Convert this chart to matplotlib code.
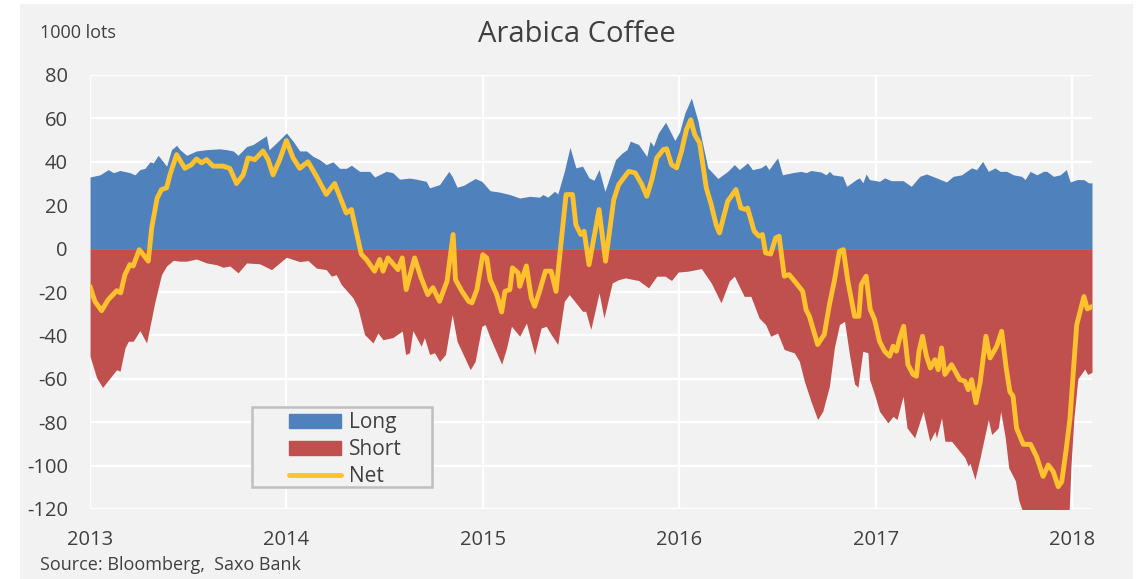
import numpy as np
import matplotlib
matplotlib.use('Agg')
import matplotlib.pyplot as plt
from matplotlib.patches import Patch, Rectangle
from matplotlib.lines import Line2D

plt.rcParams['font.family'] = ['Open Sans', 'DejaVu Sans']
plt.rcParams['axes.unicode_minus'] = False

# CFTC positions, 1000 lots (x = decimal year)
long_t = [2013.000, 2013.051, 2013.093, 2013.119, 2013.153, 2013.203, 2013.229, 2013.254, 2013.280, 2013.305,
          2013.322, 2013.347, 2013.373, 2013.390, 2013.415, 2013.441, 2013.458, 2013.492, 2013.542, 2013.593,
          2013.661, 2013.695, 2013.729, 2013.754, 2013.797, 2013.831, 2013.864, 2013.898, 2013.912, 2013.949,
          2014.000, 2014.034, 2014.068, 2014.102, 2014.136, 2014.169, 2014.203, 2014.237, 2014.271, 2014.305,
          2014.331, 2014.373, 2014.424, 2014.449, 2014.508, 2014.542, 2014.576, 2014.627, 2014.661, 2014.712,
          2014.729, 2014.780,
          2014.827, 2014.844, 2014.869, 2014.903, 2014.961, 2014.995, 2015.037, 2015.087, 2015.138, 2015.188,
          2015.239, 2015.289, 2015.306, 2015.331, 2015.365, 2015.382, 2015.415, 2015.444, 2015.474, 2015.508,
          2015.541, 2015.566, 2015.592, 2015.622, 2015.676, 2015.709, 2015.734, 2015.751, 2015.793, 2015.835,
          2015.852, 2015.869, 2015.894, 2015.931, 2015.978, 2016.003, 2016.029, 2016.062, 2016.096, 2016.113,
          2016.146, 2016.197, 2016.247, 2016.281, 2016.306, 2016.348, 2016.373, 2016.415, 2016.440, 2016.457,
          2016.501, 2016.526, 2016.578, 2016.620, 2016.646, 2016.671, 2016.722, 2016.748, 2016.765, 2016.782,
          2016.833, 2016.853, 2016.901, 2016.918, 2016.935, 2016.952, 2016.969, 2017.020, 2017.046, 2017.080,
          2017.140, 2017.182, 2017.225, 2017.259, 2017.310, 2017.361, 2017.395, 2017.438, 2017.463, 2017.489,
          2017.514, 2017.545, 2017.574, 2017.608, 2017.634, 2017.668, 2017.702, 2017.744, 2017.761, 2017.787,
          2017.821, 2017.855, 2017.872, 2017.906, 2017.940, 2017.971, 2017.991, 2018.026, 2018.060, 2018.085,
          2018.102]
long_v = [33, 34, 36.4, 35, 36, 35, 34, 36.4, 37, 40,
          39.5, 43, 40, 38, 45.6, 47.6, 45.6, 43, 45, 45.6,
          46, 45.6, 45, 43, 47, 48, 50, 52, 45.6, 48.7,
          53.3, 49.5, 45, 45, 42.5, 41, 38.7, 40, 37, 37,
          38.4, 35.6, 35.6, 33, 35.6, 35, 32, 32.5, 32, 31,
          28, 29.5,
          35.6, 33.3, 28.3, 29.2, 32.3, 31, 26.7, 26, 24.9, 23.3,
          24.1, 23.7, 24.9, 23.7, 26.4, 25.2, 35.6, 46.7, 37.2, 38,
          32.6, 31.5, 36.4, 26.4, 41, 44, 45.6, 49.5, 48, 42.5,
          49.5, 47.2, 53.3, 58.2, 49.8, 54, 62.5, 69.4, 58.7, 51,
          37.2, 32.3, 35.6, 38.7, 36.4, 39.5, 36.4, 37.2, 38.7, 36.4,
          41.8, 34, 35, 35.6, 35, 36, 35.3, 34, 35.6, 34,
          33.3, 28.7, 31.8, 32.6, 30.3, 34.4, 31.8, 31, 32.6, 31.3,
          31.3, 28.7, 33.3, 34.4, 32.6, 30.7, 33.3, 34, 35.6, 37.2,
          36.4, 40.2, 35.6, 37.2, 35.6, 35.6, 34, 33.3, 31.8, 35.6,
          34, 35.6, 35.6, 33.3, 34, 36.4, 30.7, 31.8, 31.8, 30.3,
          30.3]

short_t = [2013.000, 2013.034, 2013.064, 2013.102, 2013.136, 2013.153, 2013.178, 2013.195, 2013.220, 2013.254,
           2013.288, 2013.331, 2013.364, 2013.390, 2013.424, 2013.458, 2013.492, 2013.542, 2013.593, 2013.644,
           2013.678, 2013.712, 2013.754, 2013.797, 2013.864, 2013.924, 2014.000, 2014.068, 2014.110, 2014.153,
           2014.203, 2014.229, 2014.254, 2014.280, 2014.339, 2014.364, 2014.398, 2014.441, 2014.466, 2014.492,
           2014.542, 2014.590, 2014.607, 2014.627, 2014.644, 2014.686, 2014.703, 2014.729, 2014.754, 2014.780,
           2014.810, 2014.844, 2014.869, 2014.936, 2014.961, 2014.995, 2015.012, 2015.037, 2015.096, 2015.121,
           2015.146, 2015.188, 2015.222, 2015.264, 2015.297, 2015.323, 2015.348, 2015.382, 2015.415, 2015.440,
           2015.474, 2015.508, 2015.524, 2015.550, 2015.592, 2015.617, 2015.659, 2015.692, 2015.726, 2015.793,
           2015.844, 2015.886, 2015.928, 2015.961, 2015.995, 2016.045, 2016.113, 2016.163, 2016.213, 2016.255,
           2016.281, 2016.331, 2016.365, 2016.407, 2016.440, 2016.466,
           2016.501, 2016.535, 2016.560, 2016.586, 2016.612, 2016.637, 2016.671, 2016.705, 2016.731, 2016.765,
           2016.790, 2016.816, 2016.842, 2016.867, 2016.893, 2016.910, 2016.935, 2016.961, 2016.969, 2016.995,
           2017.020, 2017.063, 2017.089, 2017.109, 2017.140, 2017.160, 2017.199, 2017.242, 2017.276, 2017.302,
           2017.310, 2017.336, 2017.353, 2017.387, 2017.421, 2017.455, 2017.472, 2017.480, 2017.506, 2017.532,
           2017.574, 2017.591, 2017.625, 2017.637, 2017.660, 2017.678, 2017.712, 2017.729, 2017.752, 2017.770,
           2017.796, 2017.830, 2017.855, 2017.876, 2017.906, 2017.928, 2017.949, 2017.974, 2017.985, 2017.995,
           2018.010, 2018.030, 2018.065, 2018.080, 2018.102]
short_v = [-49.6, -59.6, -64, -59.6, -55.8, -56.5, -45.8, -42.7, -42.7, -37.8,
           -43.5, -24.3, -12, -8, -5.4, -5.8, -5.8, -4.8, -6.6, -7.4,
           -8.6, -8, -11.2, -6.6, -7, -9.7, -4, -6, -5.5, -9,
           -9.7, -12.7, -12, -16.6, -22.7, -27.3, -39.6, -43.5, -38.9, -42,
           -41, -38, -48.8, -48, -37.8, -45, -41, -48.8, -48, -52,
           -48.8, -30.4, -42.7, -55.8, -52, -35.8, -35, -41, -53.3, -45.8,
           -35.8, -40.4, -34.3, -48.8, -36.6, -35.8, -39.6, -44.2, -24.3, -21.2,
           -25, -28.9, -28.9, -37.3, -20.4, -32, -15.8, -14.3, -13.5, -14.7,
           -18.1, -12.7, -12.7, -14.7, -10.8, -10.4, -9.2, -15.8, -25, -15,
           -12.7, -22, -22, -32, -35, -40.4,
           -38.9, -46.5, -47.3, -48, -52, -61, -70.4, -78.8, -75, -63.4,
           -45.8, -35, -33.5, -48.8, -62.4, -63.9, -47.3, -48, -60.2, -67.3,
           -75, -80.3, -77.3, -78.8, -68, -82.6, -87.2, -75, -88.8, -84.2,
           -87.2, -78, -88.8, -88.8, -92.6, -96.4, -100.3, -98.8, -106.4, -96.4,
           -78.8, -85.7, -82.6, -75, -87, -101, -107, -116, -122, -123,
           -124, -132, -140, -135, -135, -144, -142, -125, -122, -100,
           -78, -60, -55.5, -58, -57]

net_t = [2013.000, 2013.025, 2013.059, 2013.093, 2013.136, 2013.156, 2013.178, 2013.203, 2013.220, 2013.251,
         2013.271, 2013.297, 2013.314, 2013.342, 2013.364, 2013.390, 2013.407, 2013.441, 2013.483, 2013.517,
         2013.542, 2013.568, 2013.593, 2013.627, 2013.678, 2013.712, 2013.746, 2013.780, 2013.805, 2013.839,
         2013.881, 2013.907, 2013.932, 2013.966, 2014.000, 2014.034, 2014.068, 2014.110, 2014.153, 2014.203,
         2014.246, 2014.305, 2014.331, 2014.381, 2014.407, 2014.449, 2014.475, 2014.492, 2014.517, 2014.568,
         2014.590, 2014.610, 2014.653, 2014.686, 2014.720, 2014.746, 2014.780,
         2014.818, 2014.849, 2014.861, 2014.894, 2014.928, 2014.945, 2014.970, 2015.000, 2015.020, 2015.037,
         2015.071, 2015.096, 2015.113, 2015.138, 2015.151, 2015.180, 2015.188, 2015.222, 2015.247, 2015.264,
         2015.289, 2015.319, 2015.348, 2015.373, 2015.424, 2015.457, 2015.474, 2015.499, 2015.516, 2015.541,
         2015.592, 2015.625, 2015.667, 2015.692, 2015.743, 2015.776, 2015.810, 2015.835, 2015.861, 2015.886,
         2015.919, 2015.936, 2015.961, 2015.987, 2016.012, 2016.037, 2016.059, 2016.079, 2016.104, 2016.138,
         2016.163, 2016.188, 2016.205, 2016.247, 2016.289, 2016.314, 2016.339, 2016.348, 2016.382, 2016.407,
         2016.424, 2016.440, 2016.466, 2016.491,
         2016.509, 2016.535, 2016.560, 2016.595, 2016.629, 2016.646, 2016.663, 2016.705, 2016.739, 2016.765,
         2016.790, 2016.816, 2016.836, 2016.859, 2016.893, 2016.915, 2016.927, 2016.952, 2016.973, 2016.995,
         2017.020, 2017.046, 2017.072, 2017.089, 2017.106, 2017.123, 2017.143, 2017.165, 2017.191, 2017.208,
         2017.221, 2017.239, 2017.259, 2017.279, 2017.302, 2017.319, 2017.336, 2017.353, 2017.387, 2017.429,
         2017.455, 2017.472, 2017.489, 2017.511, 2017.532, 2017.562, 2017.583, 2017.617, 2017.642, 2017.665,
         2017.684, 2017.700, 2017.718, 2017.752, 2017.789, 2017.820, 2017.853, 2017.879, 2017.905, 2017.930,
         2017.948, 2017.970, 2017.990, 2018.024, 2018.061, 2018.078, 2018.102]
net_v = [-17.4, -24.3, -28.6, -23.5, -19.4, -20.4, -12, -7.4, -8, -0.5,
         -2.8, -5.8, 9.5, 23.3, 27.2, 28, 34, 43.3, 37, 38.7,
         41.3, 39.5, 41, 38, 38, 37, 30, 34, 41.8, 41,
         45, 41, 34, 41, 49.8, 41.8, 37, 40, 33.3, 25,
         30, 16.4, 18, -2.5, -5, -10.4, -5, -10.4, -4.3, -9.7,
         -4.3, -18.9, -4.3, -13.5, -21.2, -18, -24.3,
         -15, 6.5, -14.3, -19.7, -24.3, -25, -18.9, -2.8, -4.3, -14.3,
         -21.2, -29.2, -19.7, -18.9, -8.9, -11.2, -17.4, -8, -22.7, -26.6,
         -19.7, -10.4, -10.4, -19.7, 24.9, 24.9, 11, 6.5, 8, -7.4,
         18, -5.8, 22.6, 29.5, 35.6, 34.9, 29.5, 24.1, 31.8, 41.8,
         45.6, 46, 38.7, 37.2, 44.9, 54.8, 59.4, 52.5, 48.7, 28,
         20.3, 11, 7.2, 21.8, 27.2, 18.7, 18, 18.7, 8, 5.7,
         6.5, -2, -2.5, 4.9,
         5.7, -12.7, -12, -15.8, -19.7, -28.1, -31.2, -44.2, -39.6, -25.8,
         -15, -1.2, -0.5, -15, -31.2, -31.2, -16.6, -12.7, -28.1, -32.7,
         -42.7, -47.3, -49.6, -45, -47.3, -41.2, -35.8, -53.5, -58, -58.8,
         -47.3, -40.4, -49.6, -55, -51.2, -55.8, -45.8, -58, -53.5, -60.4,
         -61.1, -65, -60.4, -71.1, -61.9, -40.4, -50.4, -45, -38.1, -55,
         -66, -68, -82.8, -90.2, -90.2, -95.9, -105, -99.7, -102.8, -109.7,
         -107.4, -93, -78.2, -35.2, -22.1, -27.8, -26.7]

years = [2013, 2014, 2015, 2016, 2017, 2018]
yticks = list(range(-120, 81, 20))

c_long = '#4F81BD'
c_short = '#C0504D'
c_net = '#FFC12E'
bg = '#F2F2F2'
txt = '#404040'

fig = plt.figure(figsize=(11.41, 5.79), dpi=100, facecolor='white')
fig.add_artist(Rectangle((20 / 1141, 0), 1113 / 1141, 575 / 579, transform=fig.transFigure,
                         facecolor=bg, edgecolor='none', zorder=-10))
ax = fig.add_axes([90 / 1141, 1 - 509 / 579, 1002 / 1141, 434 / 579])
ax.set_facecolor(bg)

ax.fill_between(long_t, 0, long_v, color=c_long, linewidth=0, zorder=2)
ax.fill_between(short_t, short_v, 0, color=c_short, linewidth=0, zorder=2)
ax.plot(net_t, net_v, color=c_net, linewidth=3.5, solid_joinstyle='round',
        solid_capstyle='round', zorder=3)

ax.set_xlim(2013, 2018.102)
ax.set_ylim(-120, 80)
ax.set_xticks(years)
ax.set_xticklabels([str(y) for y in years])
ax.set_yticks(yticks)
ax.grid(True, color='white', linewidth=1.6)
ax.set_axisbelow(True)
for s in ax.spines.values():
    s.set_visible(False)
ax.tick_params(length=0, labelsize=14.5, labelcolor=txt)
ax.tick_params(axis='y', pad=16)
ax.tick_params(axis='x', pad=15)

fig.text(577 / 1141, 1 - 34 / 579, 'Arabica Coffee', ha='center', va='center', fontsize=21, color=txt)
fig.text(40 / 1141, 1 - 33 / 579, '1000 lots', ha='left', va='center', fontsize=13, color=txt)
fig.text(40 / 1141, 1 - 565 / 579, 'Source: Bloomberg,  Saxo Bank', ha='left', va='center',
         fontsize=13, color=txt)

# legend box drawn separately (Excel-style fixed frame)
ax.add_patch(Rectangle((252 / 1141, 1 - 487 / 579), 180 / 1141, 80 / 579, transform=fig.transFigure,
                       facecolor=bg, edgecolor='#BFBFBF', linewidth=1.8, zorder=6, clip_on=False))
handles = [Patch(color=c_long), Patch(color=c_short), Line2D([], [], color=c_net, linewidth=3.5,
                                                               solid_capstyle='round')]
leg = ax.legend(handles, ['Long', 'Short', 'Net'], loc='upper left',
                bbox_to_anchor=(289 / 1141, 1 - 412 / 579), bbox_transform=fig.transFigure,
                frameon=False, fontsize=15, handlelength=2.5, handleheight=0.66,
                handletextpad=0.38, labelspacing=0.28, borderpad=0, borderaxespad=0)
leg.set_zorder(7)
for t in leg.get_texts():
    t.set_color(txt)

fig.savefig('out.png', dpi=100, facecolor='white')
